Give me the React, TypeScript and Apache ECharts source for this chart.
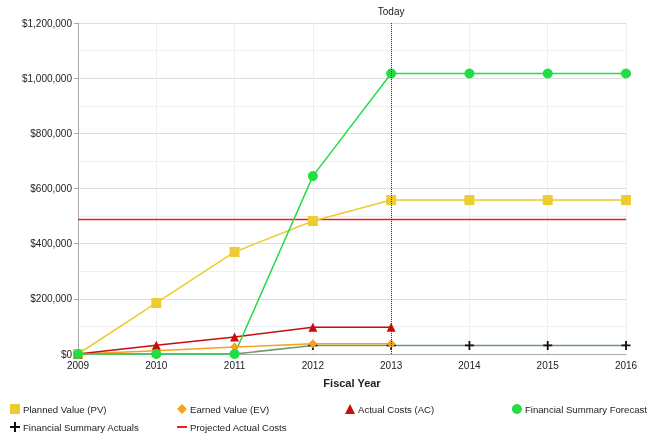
import React, { useEffect, useRef } from "react";
import * as echarts from "echarts";

const years = ["2009", "2010", "2011", "2012", "2013", "2014", "2015", "2016"];
const plannedValue = [0, 185000, 370000, 482000, 558000, 558000, 558000, 558000];
const earnedValue = [0, 12000, 25000, 37000, 37000, null, null, null];
const actualCosts = [0, 32000, 62000, 97000, 97000, null, null, null];
const forecast = [0, 0, 0, 645000, 1017000, 1017000, 1017000, 1017000];
const actuals = [0, 0, 0, 31000, 31000, 31000, 31000, 31000];
const projected = [488000, 488000, 488000, 488000, 488000, 488000, 488000, 488000];
const todayYear = "2013";

const PLUS = "path://M4,0H6V4H10V6H6V10H4V6H0V4H4Z";
const FONT = "Liberation Sans, Arial, sans-serif";

export default function App() {
  const ref = useRef<HTMLDivElement>(null);
  useEffect(() => {
    const chart = echarts.init(ref.current!, null, { renderer: "svg" });
    const legendItem = (name: string, left: number | null, top: number, icon: string, w = 10, h = 10) => ({
      data: [{ name, icon }],
      ...(left === null ? { right: 1 } : { left }),
      top,
      itemWidth: w,
      itemHeight: h,
      itemGap: 2,
      textStyle: { fontFamily: FONT, fontSize: 9.6, color: "#222", padding: [0, 0, 0, -2] },
      selectedMode: false,
      padding: 0,
    });
    chart.setOption({
      animation: false,
      textStyle: { fontFamily: FONT },
      grid: { left: 78, right: 22, top: 23, bottom: 84 },
      legend: [
        legendItem("Planned Value (PV)", 10, 404, "rect"),
        legendItem("Earned Value (EV)", 177, 404, "diamond"),
        legendItem("Actual Costs (AC)", 345, 404, "triangle"),
        legendItem("Financial Summary Forecast", null, 404, "circle"),
        legendItem("Financial Summary Actuals", 10, 422, PLUS),
        legendItem("Projected Actual Costs", 177, 422, "rect", 10, 2),
      ],
      xAxis: {
        type: "category",
        data: years,
        boundaryGap: false,
        name: "Fiscal Year",
        nameLocation: "middle",
        nameGap: 23,
        nameTextStyle: { fontWeight: "bold", fontSize: 11, color: "#222", fontFamily: FONT },
        axisLine: { lineStyle: { color: "#aaa" } },
        axisTick: { show: false },
        axisLabel: { color: "#222", fontSize: 10, margin: 6, fontFamily: FONT },
        splitLine: { show: true, lineStyle: { color: "#eeeeee" } },
      },
      yAxis: {
        type: "value",
        min: 0,
        max: 1200000,
        interval: 200000,
        axisLine: { show: true, lineStyle: { color: "#aaa" } },
        axisTick: { show: true, length: 4, lineStyle: { color: "#aaa" } },
        axisLabel: {
          color: "#222",
          fontSize: 10,
          margin: 6,
          fontFamily: FONT,
          formatter: (v: number) => "$" + v.toLocaleString("en-US"),
        },
        splitLine: { lineStyle: { color: "#dddddd" } },
        minorTick: { show: false, splitNumber: 2 },
        minorSplitLine: { show: true, lineStyle: { color: "#f0f0f0" } },
      },
      series: [
        {
          name: "Projected Actual Costs",
          type: "line",
          data: projected,
          symbol: "none",
          lineStyle: { color: "#ee1c1c", width: 1.5 },
          itemStyle: { color: "#ee1c1c" },
          markLine: {
            silent: true,
            symbol: "none",
            lineStyle: { color: "#333", type: "dotted", width: 1 },
            label: { show: true, position: "end", formatter: "Today", color: "#222", fontSize: 10, distance: 7, fontFamily: FONT },
            data: [{ xAxis: todayYear }],
          },
        },
        {
          name: "Financial Summary Actuals",
          type: "line",
          data: actuals,
          symbol: PLUS,
          symbolSize: 9,
          lineStyle: { color: "#6e9b72", width: 1.5 },
          itemStyle: { color: "#111" },
        },
        {
          name: "Planned Value (PV)",
          type: "line",
          data: plannedValue,
          symbol: "rect",
          symbolSize: 10,
          lineStyle: { color: "#eccc2e", width: 1.5 },
          itemStyle: { color: "#eccc2e" },
        },
        {
          name: "Earned Value (EV)",
          type: "line",
          data: earnedValue,
          symbol: "diamond",
          symbolSize: 9,
          lineStyle: { color: "#f8a020", width: 1.5 },
          itemStyle: { color: "#f8a020" },
        },
        {
          name: "Actual Costs (AC)",
          type: "line",
          data: actualCosts,
          symbol: "triangle",
          symbolSize: 9,
          lineStyle: { color: "#c80d0d", width: 1.5 },
          itemStyle: { color: "#c80d0d" },
        },
        {
          name: "Financial Summary Forecast",
          type: "line",
          data: forecast,
          symbol: "circle",
          symbolSize: 10,
          lineStyle: { color: "#22dd44", width: 1.5 },
          itemStyle: { color: "#22dd44" },
        },
      ],
    });
    return () => chart.dispose();
  }, []);
  return <div ref={ref} style={{ position: "fixed", left: 0, top: 0, width: 648, height: 438 }} />;
}
